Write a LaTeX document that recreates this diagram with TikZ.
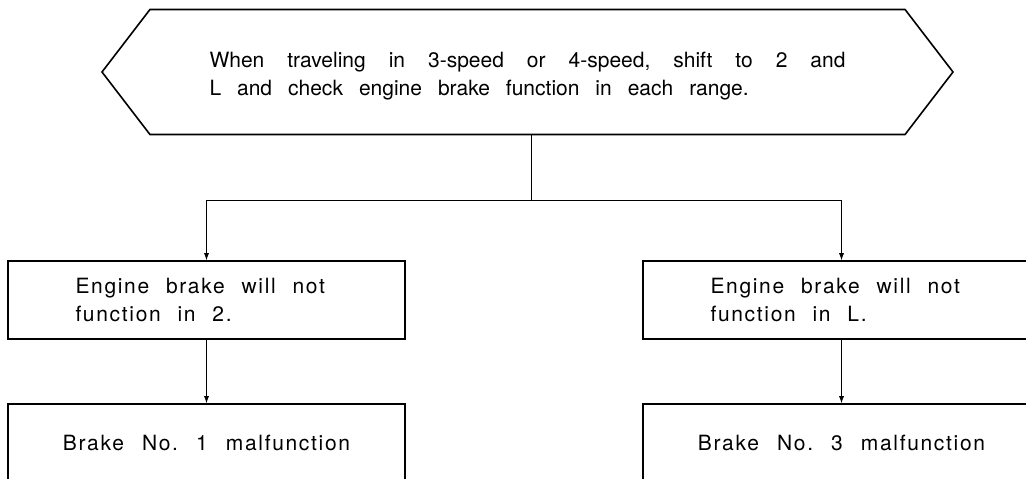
\documentclass[tikz,border=0pt]{standalone}
\usepackage{fontspec}
\setmainfont{TeX Gyre Heros}
\usepackage{tikz}
\usetikzlibrary{arrows.meta,positioning,calc,shapes.symbols}
\newcommand\wordgap[1]{\frenchspacing\spaceskip=#1\relax}

\begin{document}
\begin{tikzpicture}[x=1pt,y=-1pt,
  flowbox/.style={draw,line width=1.6pt,minimum width=397pt,minimum height=78pt,inner sep=0pt},
  resultbox/.style={flowbox,
    font=\fontsize{21}{28}\selectfont\addfontfeature{LetterSpace=8}\wordgap{0.86em}},
  faultbox/.style={flowbox,text width=262pt,align=flush left,
    font=\fontsize{21}{28}\selectfont\addfontfeature{LetterSpace=8}\wordgap{0.8em}},
  flowline/.style={line width=0.7pt,-{Latex[length=7pt,width=5pt]}}]
\useasboundingbox (0,0) rectangle (1026,479);
% check step
\node[draw,line width=1.6pt,shape=signal,signal to=west and east,signal pointer angle=105,
  minimum width=851pt,minimum height=125pt,text width=636pt,text height=24pt,align=justify,
  font=\fontsize{21}{28}\selectfont\wordgap{0.76em plus 0.6em}] (check) at (527.5,72)
  {When traveling in 3-speed or 4-speed, shift to 2 and\linebreak L and check engine brake function in each range.};
\node[faultbox] (no2) at (206.5,300) {Engine brake will not\\function in 2.};
\node[faultbox] (noL) at (841.5,300) {Engine brake will not\\function in L.};
\node[resultbox] (brake1) at (206.5,443) {Brake No. 1 malfunction};
\node[resultbox] (brake3) at (841.5,443) {Brake No. 3 malfunction};
% connectors
\coordinate (split) at (531,200);
\draw[line width=0.7pt] (check.south -| split) -- (split);
\draw[flowline] (split) -| (no2);
\draw[flowline] (split) -| (noL);
\draw[flowline] (no2) -- (brake1);
\draw[flowline] (noL) -- (brake3);
\end{tikzpicture}
\end{document}
